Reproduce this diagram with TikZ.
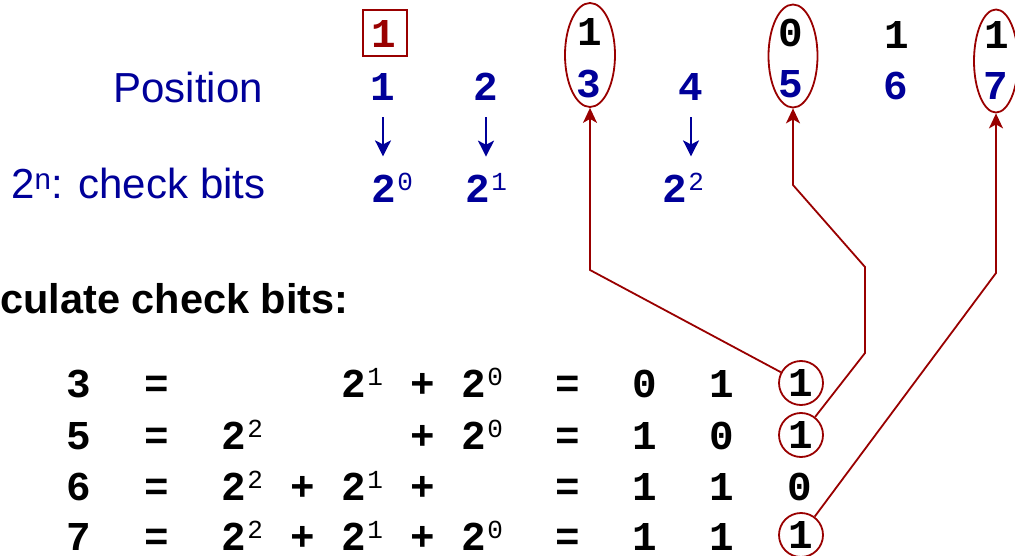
\documentclass[tikz,border=0pt]{standalone}
\usepackage{fontspec}
\setmainfont{Liberation Sans}
\setmonofont{Liberation Mono}
\usetikzlibrary{arrows.meta,shapes.geometric,calc}
\definecolor{hblue}{RGB}{0,0,153}
\definecolor{hred}{RGB}{153,0,0}
\newcommand{\pw}[2]{#1\kern1.5pt\raisebox{12pt}{\fontsize{26}{26}\selectfont\mdseries #2}}
\begin{document}
\begin{tikzpicture}[x=1pt,y=-1pt,
  mono/.style={font=\ttfamily\bfseries\fontsize{41}{41}\selectfont, inner sep=0pt, anchor=base},
  monow/.style={mono, anchor=base west},
  bl/.style={text=hblue},
  sansl/.style={font=\fontsize{42}{42}\selectfont, inner sep=0pt, text=hblue},
  ell/.style={ellipse, draw=hred, line width=1.8pt, inner sep=0pt},
  circ/.style={circle, draw=hred, line width=1.8pt, minimum size=44pt, inner sep=0pt,
    font=\ttfamily\bfseries\fontsize{41}{41}\selectfont},
  rline/.style={draw=hred, line width=1.8pt, -{Stealth[length=15pt,width=14pt,inset=4pt]}},
  barrow/.style={draw=hblue, line width=1.8pt, -{Stealth[length=16pt,width=16pt,inset=4pt]}}
]
\useasboundingbox (0,0) rectangle (1015,556);

% top data row
\node[mono, text=hred] (d1) at (384,48) {1};
\node[draw=hred, line width=1.5pt, minimum width=44pt, minimum height=46pt, inner sep=0pt] (bx) at (385,33) {};
\node[mono] (d3) at (590,46) {1};
\node[mono] (d5) at (791,47) {0};
\node[mono] (d6) at (897,49) {1};
\node[mono] (d7) at (997,49) {1};

% position row
\node[sansl, anchor=base east] (lpos) at (263,103) {Position};
\node[mono,bl] (p1) at (383,101) {1};
\node[mono,bl] (p2) at (486,101) {2};
\node[mono,bl] (p3) at (589,98) {3};
\node[mono,bl] (p4) at (691,101) {4};
\node[mono,bl] (p5) at (791,98) {5};
\node[mono,bl] (p6) at (896,100) {6};
\node[mono,bl] (p7) at (996,100) {7};

% ellipses
\node[ell, minimum width=50pt, minimum height=104pt] (e3) at (590,55) {};
\node[ell, minimum width=49pt, minimum height=103pt] (e5) at (793,56) {};
\node[ell, minimum width=44pt, minimum height=103pt] (e7) at (996,61) {};

% check bits row
\node[sansl, anchor=base west] (lchk) at (11,199) {2\textsuperscript{n}: check bits};
\node[monow,bl] (s0) at (371,203) {\pw{2}{0}};
\node[monow,bl] (s1) at (465,203) {\pw{2}{1}};
\node[monow,bl] (s2) at (662,203) {\pw{2}{2}};

\draw[barrow] ($(p1.south)+(0,16)$) -- ($(p1.south |- s0.north)+(0,-17)$);
\draw[barrow] ($(p2.south)+(0,16)$) -- ($(p2.south |- s1.north)+(0,-17)$);
\draw[barrow] ($(p4.south)+(0,16)$) -- ($(p4.south |- s2.north)+(0,-17)$);

% heading
\node[font=\bfseries\fontsize{41.5}{42}\selectfont, inner sep=0pt, anchor=base west] (calc) at (0,313) {culate check bits:};

% table row 1
\node[mono] (r1a) at (79,397) {3};
\node[mono] (r1b) at (157,397) {=};
\node[monow] (r1d) at (341,397) {\pw{2}{1}};
\node[mono] (r1e) at (423,397) {+};
\node[monow] (r1f) at (461,397) {\pw{2}{0}};
\node[mono] (r1g) at (568,397) {=};
\node[mono] (r1h) at (645,397) {0};
\node[mono] (r1i) at (722,397) {1};
\node[circ] (c1) at (801,383) {1};
% row 2
\node[mono] (r2a) at (79,449) {5};
\node[mono] (r2b) at (157,449) {=};
\node[monow] (r2c) at (221,449) {\pw{2}{2}};
\node[mono] (r2e) at (423,449) {+};
\node[monow] (r2f) at (461,449) {\pw{2}{0}};
\node[mono] (r2g) at (568,449) {=};
\node[mono] (r2h) at (645,449) {1};
\node[mono] (r2i) at (722,449) {0};
\node[circ] (c2) at (801,435) {1};
% row 3
\node[mono] (r3a) at (79,500) {6};
\node[mono] (r3b) at (157,500) {=};
\node[monow] (r3c) at (221,500) {\pw{2}{2}};
\node[mono] (r3d) at (303,500) {+};
\node[monow] (r3e) at (341,500) {\pw{2}{1}};
\node[mono] (r3f) at (423,500) {+};
\node[mono] (r3g) at (568,500) {=};
\node[mono] (r3h) at (645,500) {1};
\node[mono] (r3i) at (722,500) {1};
\node[mono] (r3j) at (800,500) {0};
% row 4
\node[mono] (r4a) at (79,550) {7};
\node[mono] (r4b) at (157,550) {=};
\node[monow] (r4c) at (221,550) {\pw{2}{2}};
\node[mono] (r4d) at (303,550) {+};
\node[monow] (r4e) at (341,550) {\pw{2}{1}};
\node[mono] (r4f) at (423,550) {+};
\node[monow] (r4g) at (461,550) {\pw{2}{0}};
\node[mono] (r4h) at (568,550) {=};
\node[mono] (r4i) at (645,550) {1};
\node[mono] (r4j) at (722,550) {1};
\node[circ] (c4) at (801,535) {1};

% connectors
\coordinate (k1) at (590,270);
\coordinate (k2a) at (865,353);
\coordinate (k2b) at (865,267);
\coordinate (k2c) at (793,185);
\coordinate (k4) at (996,273);
\draw[rline] (c1) -- (k1) -- (e3.south);
\draw[rline] (c2) -- (k2a) -- (k2b) -- (k2c) -- (e5.south);
\draw[rline] (c4) -- (k4) -- (e7.south);
\end{tikzpicture}
\end{document}
